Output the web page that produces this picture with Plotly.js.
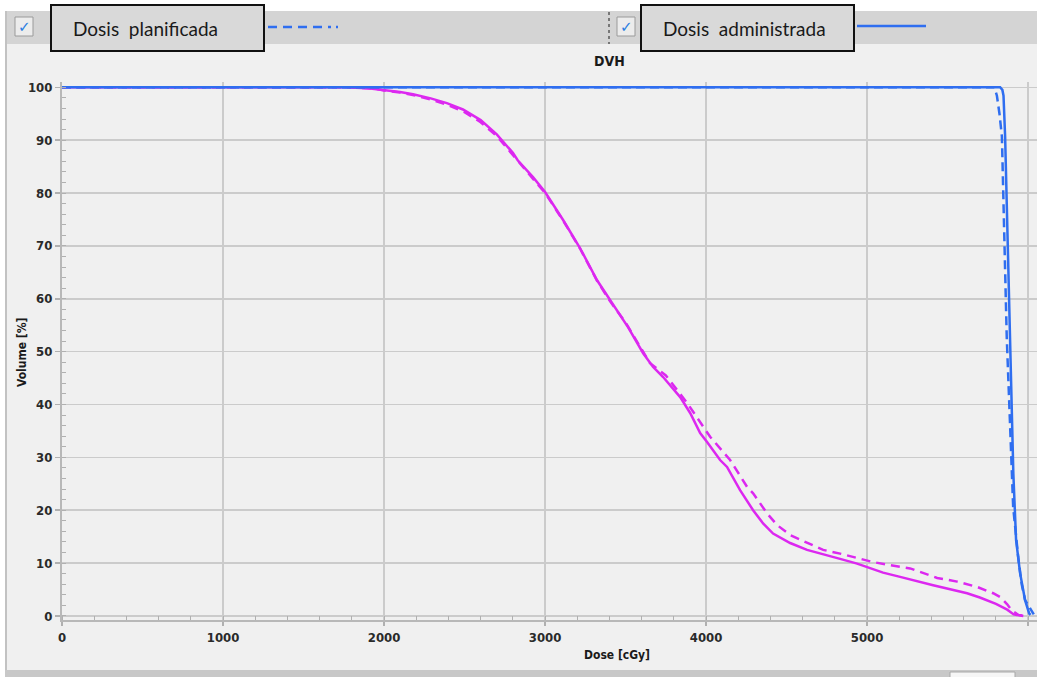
<!DOCTYPE html>
<html>
<head>
<meta charset="utf-8">
<script src="https://cdn.plot.ly/plotly-3.0.1.min.js"></script>
<style>
  html, body { margin: 0; padding: 0; background: #ffffff; }
  #chart { width: 1037px; height: 677px; }
</style>
</head>
<body>
<div id="chart"></div>
<script>
// ---- Data ----
const chartTitle = "DVH";
const xAxisTitle = "Dose [cGy]";
const yAxisTitle = "Volume [%]";
const legendPlanned = "Dosis\u00a0 planificada";
const legendDelivered = "Dosis\u00a0 administrada";

const xTickVals = [0, 1000, 2000, 3000, 4000, 5000, 6000];
const yTickVals = [0, 10, 20, 30, 40, 50, 60, 70, 80, 90, 100];

// Target structure (blue), planned (dashed)
const bluePlannedDose = [0, 5790, 5806, 5822, 5837, 5845, 5857, 5867, 5876, 5888, 5907, 5938, 5960, 5981, 6000, 6025, 6035];
const bluePlannedVol  = [100, 100, 98.4, 95.0, 90.7, 78.0, 65.4, 52.8, 45.9, 33.3, 20.6, 11.2, 6.0, 3.0, 2.0, 0.7, 0.3];

// Target structure (blue), delivered (solid)
const blueDeliveredDose = [0, 5826, 5840, 5847, 5857, 5867, 5877, 5888, 5898, 5908, 5925, 5950, 5981, 6006, 6015];
const blueDeliveredVol  = [100, 100, 99.5, 98.4, 90.7, 78.0, 65.4, 52.5, 39.6, 27.0, 14.4, 8.1, 3.0, 0.5, 0.2];

// Organ (magenta), planned (dashed)
const magPlannedDose = [0, 1800, 1950, 2000, 2100, 2200, 2300, 2400, 2500, 2600, 2700, 2800, 2925, 3000, 3112, 3217, 3323, 3404, 3500, 3600, 3652, 3750, 3882, 4025, 4149, 4255, 4292, 4379, 4441, 4522, 4627, 4727, 4832, 4938, 5037, 5143, 5267, 5435, 5559, 5683, 5783, 5830, 5870, 5900, 5940, 5980];
const magPlannedVol  = [100, 100, 99.7, 99.4, 99.0, 98.4, 97.6, 96.6, 95.3, 93.4, 90.8, 87.2, 82.8, 80.0, 74.8, 69.5, 63.4, 59.5, 55.5, 50.5, 47.8, 45.5, 40.3, 33.9, 29.5, 24.4, 23.2, 19.4, 17.2, 15.3, 13.8, 12.5, 11.8, 10.9, 10.2, 9.6, 9.0, 7.2, 6.5, 5.5, 4.3, 3.5, 2.2, 1.0, 0.2, 0.0];

// Organ (magenta), delivered (solid)
const magDeliveredDose = [0, 1750, 1900, 2000, 2100, 2180, 2290, 2390, 2490, 2600, 2700, 2800, 2830, 2925, 3000, 3112, 3217, 3323, 3404, 3484, 3516, 3609, 3671, 3733, 3839, 3901, 3963, 4006, 4087, 4130, 4211, 4292, 4354, 4416, 4522, 4627, 4727, 4832, 4938, 5000, 5099, 5205, 5410, 5621, 5700, 5800, 5870, 5910, 5970];
const magDeliveredVol  = [100, 100, 99.8, 99.5, 99.1, 98.7, 97.9, 97.0, 95.8, 93.8, 91.1, 87.6, 86.2, 83.0, 80.2, 74.9, 69.6, 63.5, 59.7, 56.0, 54.6, 49.7, 47.1, 45.2, 41.4, 38.4, 34.6, 32.9, 29.5, 28.2, 23.8, 20.0, 17.5, 15.6, 13.8, 12.5, 11.6, 10.8, 9.9, 9.2, 8.2, 7.4, 5.8, 4.3, 3.5, 2.3, 1.2, 0.3, 0.0];

// ---- Styling / layout ----
const BLUE = "#2f6ef0";
const MAGENTA = "#dc28f0";
const W = 1037, H = 677;
const ML = 62, MR = 0, MT = 82, MB = 57;
const PW = W - ML - MR, PH = H - MT - MB;
// pixel -> paper helpers (for chrome decoration only)
const PX = p => (p - ML) / PW;
const PY = p => (H - MB - p) / PH;

const narrow = "Liberation Sans Narrow, DejaVu Sans Condensed, Arial Narrow, Liberation Sans, sans-serif";
const ui = "Lato, Open Sans, Noto Sans, sans-serif";

const traces = [
  { x: magDeliveredDose, y: magDeliveredVol, type: "scatter", mode: "lines", name: "Organ administrada",
    line: { color: MAGENTA, width: 2.5 }, showlegend: false },
  { x: magPlannedDose, y: magPlannedVol, type: "scatter", mode: "lines", name: "Organ planificada",
    line: { color: MAGENTA, width: 2.5, dash: "9px,6px" }, showlegend: false },
  { x: bluePlannedDose, y: bluePlannedVol, type: "scatter", mode: "lines", name: "PTV planificada",
    line: { color: BLUE, width: 2.5, dash: "9px,5px" }, showlegend: false },
  { x: blueDeliveredDose, y: blueDeliveredVol, type: "scatter", mode: "lines", name: "PTV administrada",
    line: { color: BLUE, width: 2.5 }, showlegend: false }
];

function rectPx(x0, y0, x1, y1, fill, lineColor, lineWidth) {
  return { type: "rect", xref: "paper", yref: "paper", layer: "above",
    x0: PX(x0), x1: PX(x1), y0: PY(y0), y1: PY(y1),
    fillcolor: fill, line: { color: lineColor || fill, width: lineWidth === undefined ? 0 : lineWidth } };
}
function linePx(x0, y0, x1, y1, color, width, dash) {
  return { type: "line", xref: "paper", yref: "paper", layer: "above",
    x0: PX(x0), x1: PX(x1), y0: PY(y0), y1: PY(y1),
    line: { color: color, width: width, dash: dash || "solid" } };
}

const shapes = [
  rectPx(0, 0, W, 11, "#ffffff"),
  rectPx(0, 11, W, 44, "#d4d4d4"),
  rectPx(0, 0, 5, H, "#ffffff"),
  rectPx(5, 11, 7, H, "#c2c2c2"),
  rectPx(5, 670, W, H, "#c8c8c8"),
  rectPx(950, 672, 1015, H + 2, "#f6f6f6", "#a8a8a8", 1),
  // checkbox 1
  rectPx(15, 17, 33, 36, "#ececec", "#9a9a9a", 1),
  // legend box 1
  rectPx(51, 5, 264, 51, "#d9d9d9", "#111111", 2),
  // dashed legend sample
  linePx(268, 27, 331, 27, BLUE, 2.5, "9px,6px"),
  linePx(336, 27, 338, 27, BLUE, 2.5),
  // separator
  linePx(609, 12, 609, 44, "#777777", 2, "dot"),
  // checkbox 2
  rectPx(617, 17, 635, 36, "#ececec", "#9a9a9a", 1),
  // legend box 2
  rectPx(641, 5, 854, 51, "#d9d9d9", "#111111", 2),
  // solid legend sample
  linePx(857, 26, 926, 26, BLUE, 2.5)
];

const annotations = [
  { text: "<b>\u2713</b>", xref: "paper", yref: "paper", x: PX(24), y: PY(27), xanchor: "center", yanchor: "middle",
    showarrow: false, font: { family: "DejaVu Sans", size: 15, color: "#2a7de1" } },
  { text: legendPlanned, xref: "paper", yref: "paper", x: PX(71), y: PY(29), xanchor: "left", yanchor: "middle",
    showarrow: false, font: { family: ui, size: 19, color: "#1a1a1a" } },
  { text: "<b>\u2713</b>", xref: "paper", yref: "paper", x: PX(626), y: PY(27), xanchor: "center", yanchor: "middle",
    showarrow: false, font: { family: "DejaVu Sans", size: 15, color: "#2a7de1" } },
  { text: legendDelivered, xref: "paper", yref: "paper", x: PX(661), y: PY(29), xanchor: "left", yanchor: "middle",
    showarrow: false, font: { family: ui, size: 19, color: "#1a1a1a" } },
  { text: "<b>" + chartTitle + "</b>", xref: "paper", yref: "paper", x: PX(609), y: PY(61), xanchor: "center", yanchor: "middle",
    showarrow: false, font: { family: narrow, size: 14, color: "#1a1a1a" } },
  { text: "<b>" + xAxisTitle + "</b>", xref: "paper", yref: "paper", x: PX(617), y: PY(655), xanchor: "center", yanchor: "middle",
    showarrow: false, font: { family: narrow, size: 12, color: "#1a1a1a" } },
  { text: "<b>" + yAxisTitle + "</b>", xref: "paper", yref: "paper", x: PX(22), y: PY(352), xanchor: "center", yanchor: "middle",
    textangle: -90, showarrow: false, font: { family: narrow, size: 12, color: "#1a1a1a" } }
];

const tickFont = { family: narrow, size: 13, color: "#2a2a2a", weight: "bold" };

const layout = {
  width: W, height: H,
  margin: { l: ML, r: MR, t: MT, b: MB, pad: 0 },
  paper_bgcolor: "#f0f0f0",
  plot_bgcolor: "#f0f0f0",
  showlegend: false,
  xaxis: {
    range: [0, 6055], autorange: false,
    tickvals: xTickVals, ticktext: xTickVals.map(String),
    ticks: "outside", ticklen: 4, tickwidth: 1.5, tickcolor: "#b0b0b0",
    showgrid: true, gridcolor: "#cbcbcb", gridwidth: 1.5,
    zeroline: false, showline: true, linecolor: "#b8b8b8", linewidth: 2,
    tickfont: tickFont,
    minor: { dtick: 200, tick0: 0, ticks: "inside", ticklen: 4, tickwidth: 1, tickcolor: "#b0b0b0", showgrid: false },
    fixedrange: true
  },
  yaxis: {
    range: [-0.76, 101], autorange: false,
    tickvals: yTickVals, ticktext: yTickVals.map(String),
    ticks: "outside", ticklen: 5, tickwidth: 1.5, tickcolor: "#b0b0b0",
    showgrid: true, gridcolor: "#cbcbcb", gridwidth: 1.5,
    zeroline: false, showline: true, linecolor: "#b8b8b8", linewidth: 2,
    tickfont: tickFont,
    minor: { dtick: 2, tick0: 0, ticks: "inside", ticklen: 4, tickwidth: 1, tickcolor: "#b0b0b0", showgrid: false },
    fixedrange: true
  },
  shapes: shapes,
  annotations: annotations
};

Plotly.newPlot("chart", traces, layout, { displayModeBar: false, staticPlot: true });
</script>
</body>
</html>
